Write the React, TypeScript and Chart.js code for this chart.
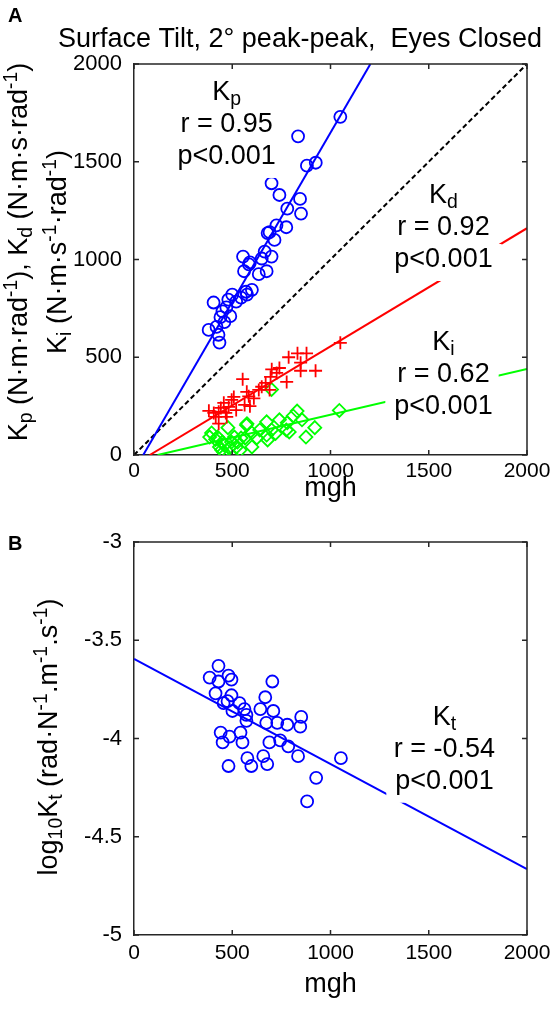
import React, { useEffect, useRef } from "react";
import { Chart, registerables } from "chart.js";

Chart.register(...registerables);

const FONT = '"Liberation Sans", Arial, Helvetica, sans-serif';
const AXIS = "#262626";

// ---------- Panel A data ----------
const xTickStep = 500;
const panelAYTickStep = 500;

const kpMgh = [1050, 835, 880, 925, 700, 740, 845, 850, 780, 725, 775, 680, 690, 665, 555, 700, 650, 590, 585, 560, 675, 635, 600, 570, 575, 545, 500, 480, 405, 470, 450, 490, 440, 380, 420, 430, 435, 460, 520, 715];
const kpGain = [1730, 1630, 1480, 1495, 1390, 1330, 1310, 1235, 1260, 1175, 1165, 1135, 1140, 1040, 1015, 1015, 1005, 985, 975, 940, 940, 925, 845, 835, 820, 805, 820, 795, 780, 755, 735, 710, 705, 640, 655, 615, 575, 680, 785, 1100];

const kdMgh = [1050, 787, 832, 878, 848, 924, 848, 777, 701, 726, 695, 670, 553, 650, 635, 574, 584, 508, 563, 457, 482, 381, 431, 467, 416, 431, 497, 442, 406, 472, 690, 740, 610, 520, 590];
const kdGain = [574, 500, 520, 520, 472, 431, 431, 374, 438, 420, 400, 369, 388, 349, 333, 323, 300, 297, 256, 267, 246, 226, 221, 215, 195, 160, 282, 241, 215, 195, 333, 445, 290, 230, 250];

const kiMgh = [700, 830, 855, 920, 875, 1045, 740, 780, 790, 675, 640, 700, 680, 575, 600, 565, 600, 478, 395, 425, 450, 486, 446, 511, 527, 496, 545, 675, 625, 775, 572, 385, 435, 455, 520, 540, 460, 415, 720, 810];
const kiGain = [335, 225, 180, 140, 92, 228, 180, 165, 118, 170, 128, 128, 77, 160, 113, 87, 41, 140, 113, 92, 66, 36, 26, 92, 66, 66, 87, 102, 87, 128, 153, 92, 41, 15, 40, 25, 50, 80, 110, 200];

// regression lines (end points) and identity line
const kpFitX = [47, 1203];
const kpFitY = [0, 2000];
const kdFitX = [80, 2000];
const kdFitY = [0, 1160];
const kiFitX = [120, 2000];
const kiFitY = [0, 440];
const identityX = [0, 2000];
const identityY = [0, 2000];

// ---------- Panel B data ----------
const ktMgh = [430, 385, 430, 481, 496, 704, 415, 496, 668, 456, 476, 537, 501, 562, 572, 643, 709, 572, 673, 729, 780, 851, 846, 441, 451, 486, 542, 552, 689, 744, 785, 835, 1053, 481, 577, 597, 658, 678, 927, 881];
const ktLog = [-3.63, -3.69, -3.71, -3.68, -3.7, -3.71, -3.77, -3.78, -3.79, -3.82, -3.81, -3.82, -3.86, -3.85, -3.88, -3.85, -3.86, -3.91, -3.92, -3.92, -3.93, -3.89, -3.94, -3.97, -4.02, -3.99, -3.97, -4.02, -4.02, -4.01, -4.04, -4.09, -4.1, -4.14, -4.1, -4.14, -4.09, -4.13, -4.2, -4.32];
const ktFitX = [0, 2000];
const ktFitY = [-3.595, -4.665];
const panelBYTickStep = 0.5;

// ---------- text ----------
type Seg = { t: string; s?: "sub" | "sup" };

const titleA = "Surface Tilt, 2° peak-peak,  Eyes Closed";
const yLabelA1: Seg[] = [
  { t: "K" }, { t: "p", s: "sub" }, { t: " (N·m·rad" }, { t: "-1", s: "sup" }, { t: "), K" }, { t: "d", s: "sub" },
  { t: " (N·m·s·rad" }, { t: "-1", s: "sup" }, { t: ")" },
];
const yLabelA2: Seg[] = [
  { t: "K" }, { t: "i", s: "sub" }, { t: " (N·m·s" }, { t: "-1", s: "sup" }, { t: "·rad" }, { t: "-1", s: "sup" }, { t: ")" },
];
const yLabelB: Seg[] = [
  { t: "log" }, { t: "10", s: "sub" }, { t: "K" }, { t: "t", s: "sub" }, { t: " (rad·N" }, { t: "-1", s: "sup" },
  { t: ".m" }, { t: "-1", s: "sup" }, { t: ".s" }, { t: "-1", s: "sup" }, { t: ")" },
];

type Block = { x: number; y: number; lines: Seg[][] };
const notesA: Block[] = [
  { x: 471, y: 1816, lines: [[{ t: "K" }, { t: "p", s: "sub" }], [{ t: "r = 0.95" }], [{ t: "p<0.001" }]] },
  { x: 1575, y: 1289, lines: [[{ t: "K" }, { t: "d", s: "sub" }], [{ t: "r = 0.92" }], [{ t: "p<0.001" }]] },
  { x: 1575, y: 537, lines: [[{ t: "K" }, { t: "i", s: "sub" }], [{ t: "r = 0.62" }], [{ t: "p<0.001" }]] },
];
const notesB: Block[] = [
  { x: 1580, y: -3.93, lines: [[{ t: "K" }, { t: "t", s: "sub" }], [{ t: "r = -0.54" }], [{ t: "p<0.001" }]] },
];

// ---------- drawing helpers ----------
function setFont(ctx: CanvasRenderingContext2D, size: number, weight = "normal") {
  ctx.font = `${weight} ${size}px ${FONT}`;
}
function richWidth(ctx: CanvasRenderingContext2D, segs: Seg[], size: number) {
  let w = 0;
  for (const sg of segs) {
    setFont(ctx, sg.s ? size * 0.72 : size);
    w += ctx.measureText(sg.t).width;
  }
  return w;
}
function drawRich(ctx: CanvasRenderingContext2D, segs: Seg[], x: number, y: number, size: number) {
  const w = richWidth(ctx, segs, size);
  let cx = x - w / 2;
  ctx.textAlign = "left";
  ctx.textBaseline = "alphabetic";
  for (const sg of segs) {
    const sz = sg.s ? size * 0.72 : size;
    setFont(ctx, sz);
    const dy = sg.s === "sub" ? size * 0.2 : sg.s === "sup" ? -size * 0.38 : 0;
    ctx.fillText(sg.t, cx, y + dy);
    cx += ctx.measureText(sg.t).width;
  }
}

function framePlugin() {
  return {
    id: "frame",
    afterDatasetsDraw(chart: any) {
      const { ctx, chartArea: a, scales } = chart;
      const xs = scales.x;
      const ys = scales.y;
      ctx.save();
      ctx.strokeStyle = AXIS;
      ctx.lineWidth = 1.5;
      ctx.beginPath();
      ctx.moveTo(a.left, a.top);
      ctx.lineTo(a.right, a.top);
      ctx.lineTo(a.right, a.bottom);
      ctx.stroke();
      const L = 5;
      ctx.beginPath();
      for (const t of xs.ticks) {
        const px = xs.getPixelForValue(t.value);
        ctx.moveTo(px, a.bottom);
        ctx.lineTo(px, a.bottom - L);
        ctx.moveTo(px, a.top);
        ctx.lineTo(px, a.top + L);
      }
      for (const t of ys.ticks) {
        const py = ys.getPixelForValue(t.value);
        ctx.moveTo(a.left, py);
        ctx.lineTo(a.left + L, py);
        ctx.moveTo(a.right, py);
        ctx.lineTo(a.right - L, py);
      }
      ctx.stroke();
      ctx.restore();
    },
  };
}

function notesPlugin(blocks: Block[], size: number, spacing: number) {
  return {
    id: "notes",
    afterDatasetsDraw(chart: any) {
      const { ctx, scales } = chart;
      ctx.save();
      for (const b of blocks) {
        const cx = scales.x.getPixelForValue(b.x);
        const by = scales.y.getPixelForValue(b.y);
        b.lines.forEach((ln, i) => {
          const w = richWidth(ctx, ln, size);
          const base = by + i * spacing;
          ctx.fillStyle = "#ffffff";
          ctx.fillRect(cx - w / 2 - 9, base - 23, w + 18, 37);
        });
        ctx.fillStyle = "#000000";
        b.lines.forEach((ln, i) => drawRich(ctx, ln, cx, by + i * spacing, size));
      }
      ctx.restore();
    },
  };
}

function labelsPlugin(opts: {
  letter: string; letterY: number;
  title?: string; titleX?: number; titleY?: number;
  yLabels: { segs: Seg[]; x: number }[]; yCenter: number; size: number;
}) {
  return {
    id: "labels",
    afterDraw(chart: any) {
      const { ctx } = chart;
      ctx.save();
      ctx.fillStyle = "#000";
      ctx.textAlign = "left";
      ctx.textBaseline = "alphabetic";
      setFont(ctx, 20, "bold");
      ctx.fillText(opts.letter, 8, opts.letterY);
      if (opts.title) {
        setFont(ctx, opts.size);
        ctx.textAlign = "center";
        ctx.fillText(opts.title, opts.titleX, opts.titleY);
      }
      for (const yl of opts.yLabels) {
        ctx.save();
        ctx.translate(yl.x, opts.yCenter);
        ctx.rotate(-Math.PI / 2);
        drawRich(ctx, yl.segs, 0, 0, opts.size);
        ctx.restore();
      }
      ctx.restore();
    },
  };
}

const pts = (xs: number[], ys: number[]) => xs.map((x, i) => ({ x, y: ys[i] }));

function scaleX(height: number, pad: number, titlePadBottom: number) {
  return {
    type: "linear",
    min: 0,
    max: 2000,
    ticks: {
      stepSize: xTickStep,
      padding: pad,
      color: "#000",
      font: { family: FONT, size: 21 },
      maxRotation: 0,
      autoSkip: false,
      callback: (v: any) => String(v),
    },
    grid: { display: false, drawTicks: false },
    border: { display: true, color: AXIS, width: 1.5 },
    title: {
      display: true,
      text: "mgh",
      color: "#000",
      font: { family: FONT, size: 27 },
      padding: { top: 0, bottom: titlePadBottom },
    },
    afterFit: (s: any) => {
      s.height = height;
      s.paddingLeft = 0;
      s.paddingRight = 0;
    },
  };
}

function scaleY(min: number, max: number, step: number) {
  return {
    type: "linear",
    min,
    max,
    ticks: {
      stepSize: step,
      padding: 12,
      color: "#000",
      font: { family: FONT, size: 22 },
      callback: (v: any) => String(Math.round(v * 100) / 100),
    },
    grid: { display: false, drawTicks: false },
    border: { display: true, color: AXIS, width: 1.5 },
    afterFit: (s: any) => {
      s.width = 134;
      s.paddingTop = 0;
      s.paddingBottom = 0;
    },
  };
}

const lineDs = (xs: number[], ys: number[], color: string, dash: number[] = []) => ({
  data: pts(xs, ys),
  showLine: true,
  borderColor: color,
  borderWidth: 2,
  borderDash: dash,
  pointRadius: 0,
  fill: false,
});

const markerDs = (xs: number[], ys: number[], style: string, radius: number, color: string) => ({
  data: pts(xs, ys),
  pointStyle: style,
  pointRadius: radius,
  pointBorderWidth: 1.8,
  pointBorderColor: color,
  pointBackgroundColor: "rgba(0,0,0,0)",
});

export default function App() {
  const refA = useRef<HTMLCanvasElement | null>(null);
  const refB = useRef<HTMLCanvasElement | null>(null);

  useEffect(() => {
    const chartA = new Chart(refA.current as HTMLCanvasElement, {
      type: "scatter",
      data: {
        datasets: [
          lineDs(kpFitX, kpFitY, "#0000ff"),
          lineDs(kdFitX, kdFitY, "#ff0000"),
          lineDs(kiFitX, kiFitY, "#00ff00"),
          lineDs(identityX, identityY, "#000000", [5, 3]),
          markerDs(kpMgh, kpGain, "circle", 6, "#0000ff"),
          markerDs(kdMgh, kdGain, "cross", 6.5, "#ff0000"),
          markerDs(kiMgh, kiGain, "rectRot", 6.5, "#00ff00"),
        ] as any,
      },
      options: {
        animation: false,
        responsive: false,
        devicePixelRatio: 1,
        layout: { padding: { top: 64, right: 24, left: 0, bottom: 0 } },
        plugins: { legend: { display: false }, tooltip: { enabled: false } },
        scales: { x: scaleX(50, 4, 0), y: scaleY(0, 2000, panelAYTickStep) } as any,
      },
      plugins: [
        framePlugin(),
        notesPlugin(notesA, 27, 32),
        labelsPlugin({
          letter: "A", letterY: 22, title: titleA, titleX: 300, titleY: 47,
          yLabels: [{ segs: yLabelA1, x: 27 }, { segs: yLabelA2, x: 66 }], yCenter: 252, size: 27,
        }),
      ],
    } as any);

    const chartB = new Chart(refB.current as HTMLCanvasElement, {
      type: "scatter",
      data: {
        datasets: [
          lineDs(ktFitX, ktFitY, "#0000ff"),
          markerDs(ktMgh, ktLog, "circle", 6, "#0000ff"),
        ] as any,
      },
      options: {
        animation: false,
        responsive: false,
        devicePixelRatio: 1,
        layout: { padding: { top: 37, right: 24, left: 0, bottom: 0 } },
        plugins: { legend: { display: false }, tooltip: { enabled: false } },
        scales: { x: scaleX(74, 6, 8), y: scaleY(-5, -3, panelBYTickStep) } as any,
      },
      plugins: [
        framePlugin(),
        notesPlugin(notesB, 27, 32),
        labelsPlugin({
          letter: "B", letterY: 45,
          yLabels: [{ segs: yLabelB, x: 57 }], yCenter: 232, size: 27,
        }),
      ],
    } as any);

    return () => {
      chartA.destroy();
      chartB.destroy();
    };
  }, []);

  return (
    <div style={{ position: "absolute", left: 0, top: 0, width: 551, height: 1009, background: "#fff" }}>
      <canvas ref={refA} width={551} height={505} style={{ position: "absolute", left: 0, top: 0, width: 551, height: 505 }} />
      <canvas ref={refB} width={551} height={504} style={{ position: "absolute", left: 0, top: 505, width: 551, height: 504 }} />
    </div>
  );
}
